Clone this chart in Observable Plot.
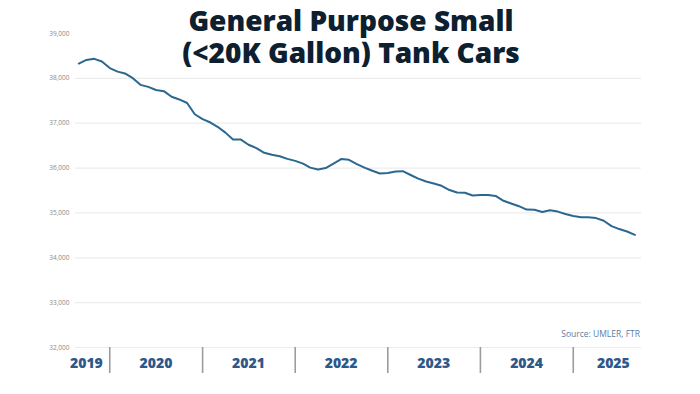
<!DOCTYPE html>
<html>
<head>
<meta charset="utf-8">
<script src="https://cdn.jsdelivr.net/npm/d3@7"></script>
<script src="https://cdn.jsdelivr.net/npm/@observablehq/plot@0.6"></script>
<style>
  html, body { margin: 0; padding: 0; background: #ffffff; }
  #wrap { position: relative; width: 700px; height: 394px; overflow: hidden; }
  .title {
    position: absolute; left: 0; width: 702px; text-align: center;
    font-family: "Open Sans", sans-serif; font-weight: 800; font-size: 28px; line-height: 32px;
    color: #0d2030; z-index: 2; white-space: nowrap;
  }
  #t1 { top: 4px; }
  #t2 { top: 36px; }
  #source {
    position: absolute; right: 60px; top: 328px;
    font-family: "Open Sans", sans-serif; font-size: 8.5px; color: #5b7ca3; z-index: 2;
  }
</style>
</head>
<body>
<div id="wrap">
  <div class="title" id="t1">General Purpose Small</div>
  <div class="title" id="t2">(&lt;20K Gallon) Tank Cars</div>
  <div id="source">Source: UMLER, FTR</div>
  <div id="chart"></div>
</div>
<script>
// ---- data ----
const firstMonth = "2019-09-01";
const tankCars = [
  38330, 38410, 38435, 38375, 38230, 38150, 38110, 38005, 37855, 37810,
  37740, 37715, 37590, 37530, 37450, 37200, 37090, 37015, 36920, 36790,
  36635, 36635, 36520, 36445, 36340, 36295, 36265, 36205, 36160, 36100,
  36010, 35970, 36000, 36100, 36200, 36185, 36090, 36010, 35940, 35880,
  35890, 35925, 35930, 35845, 35765, 35700, 35655, 35605, 35510, 35455,
  35450, 35390, 35400, 35400, 35380, 35270, 35210, 35150, 35075, 35070,
  35020, 35060, 35030, 34975, 34930, 34905, 34905, 34885, 34825, 34705,
  34640, 34585, 34510
];
const yTicks = [32000, 33000, 34000, 35000, 36000, 37000, 38000, 39000];
const gridLines = [32000, 33000, 34000, 35000, 36000, 37000, 38000];
const yearLabels = ["2019", "2020", "2021", "2022", "2023", "2024", "2025"];
const yearLabelDates = ["2019-10-01", "2020-07-01", "2021-07-01", "2022-07-01", "2023-07-01", "2024-07-01", "2025-06-08"];
const yearBoundaries = ["2020-01-01", "2021-01-01", "2022-01-01", "2023-01-01", "2024-01-01", "2025-01-01"];

// ---- build tables ----
const start = new Date(firstMonth);
const series = tankCars.map((v, i) => ({ date: d3.utcMonth.offset(start, i), value: v }));
const labels = yearLabels.map((t, i) => ({ date: new Date(yearLabelDates[i]), text: t }));
const bounds = yearBoundaries.map(d => new Date(d));

const chart = Plot.plot({
  width: 700,
  height: 394,
  marginLeft: 75,
  marginRight: 59,
  marginTop: 33,
  marginBottom: 47,
  style: { fontFamily: "'Open Sans', sans-serif", background: "transparent" },
  x: { type: "utc", domain: [new Date("2019-08-19"), new Date("2025-09-27")] },
  y: { domain: [32000, 39000] },
  marks: [
    Plot.ruleY(gridLines, { stroke: "#ececec", strokeWidth: 1.2 }),
    Plot.axisY({
      ticks: yTicks, tickSize: 0, tickPadding: 6, fontSize: 6.5,
      tickFormat: d3.format(","), color: "#8a8a8a", label: null
    }),
    Plot.axisX(bounds, {
      tickSize: 26, tickFormat: () => "", stroke: "#9c9c9c", strokeWidth: 1.6, label: null
    }),
    Plot.text(labels, {
      x: "date", y: () => 32000, text: "text", dy: 16,
      fontSize: 14, fontWeight: 800, fill: "#2e588a"
    }),
    Plot.line(series, {
      x: "date", y: "value", stroke: "#2b6890", strokeWidth: 2, curve: "linear"
    })
  ]
});
document.getElementById("chart").appendChild(chart);
</script>
</body>
</html>
